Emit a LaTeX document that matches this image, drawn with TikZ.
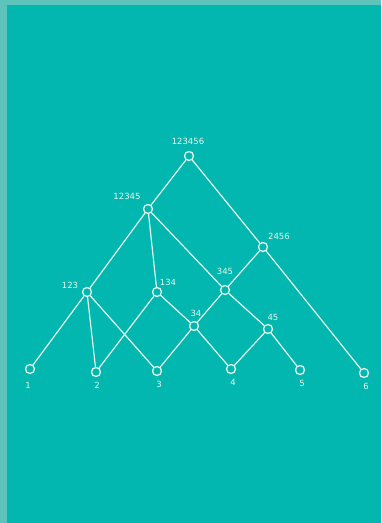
\documentclass[tikz,border=0pt]{standalone}
\usepackage{fontspec}
\setmainfont{DejaVu Sans}
\definecolor{bgteal}{HTML}{02B7AF}
\definecolor{rimteal}{HTML}{5EC4BB}
\definecolor{chalk}{HTML}{E6F6EC}
\begin{document}
\begin{tikzpicture}[x=1pt,y=-1pt,
  vtx/.style={circle,draw=chalk,line width=1.3pt,minimum size=9pt,inner sep=0pt},
  edge/.style={draw=chalk,line width=1.2pt,line cap=round},
  lab/.style={text=chalk,font=\fontsize{8.5}{9}\selectfont,inner sep=0pt}]
\fill[rimteal] (0,0) rectangle (381,523);
\fill[bgteal] (7,5) rectangle (381,523);
\useasboundingbox (0,0) rectangle (381,523);
% vertices
\node[vtx] (n123456) at (189,156) {};
\node[vtx] (n12345) at (148,209) {};
\node[vtx] (n2456) at (263,247) {};
\node[vtx] (n123) at (87,292) {};
\node[vtx] (n134) at (157,292) {};
\node[vtx] (n345) at (225,290) {};
\node[vtx] (n34) at (194,326) {};
\node[vtx] (n45) at (268,329) {};
\node[vtx] (n1) at (30,369) {};
\node[vtx] (n2) at (96,372) {};
\node[vtx] (n3) at (157,371) {};
\node[vtx] (n4) at (231,369) {};
\node[vtx] (n5) at (300,370) {};
\node[vtx] (n6) at (364,373) {};
% labels
\node[lab] (l123456) at (188,141) {123456};
\node[lab] (l12345) at (127,196) {12345};
\node[lab] (l2456) at (279,236) {2456};
\node[lab] (l123) at (70,285) {123};
\node[lab] (l134) at (168,282) {134};
\node[lab] (l345) at (225,271) {345};
\node[lab] (l34) at (196,313) {34};
\node[lab] (l45) at (273,317) {45};
\node[lab] (l1) at (28,385) {1};
\node[lab] (l2) at (97,385) {2};
\node[lab] (l3) at (159,384) {3};
\node[lab] (l4) at (233,382) {4};
\node[lab] (l5) at (302,383) {5};
\node[lab] (l6) at (366,386) {6};
% edges
\draw[edge] (n123456) -- (n12345);
\draw[edge] (n123456) -- (n2456);
\draw[edge] (n12345) -- (n123);
\draw[edge] (n12345) -- (n134);
\draw[edge] (n12345) -- (n345);
\draw[edge] (n2456) -- (n345);
\draw[edge] (n2456) -- (n6);
\draw[edge] (n123) -- (n1);
\draw[edge] (n123) -- (n2);
\draw[edge] (n123) -- (n3);
\draw[edge] (n134) -- (n2);
\draw[edge] (n134) -- (n34);
\draw[edge] (n345) -- (n34);
\draw[edge] (n345) -- (n45);
\draw[edge] (n34) -- (n3);
\draw[edge] (n34) -- (n4);
\draw[edge] (n45) -- (n4);
\draw[edge] (n45) -- (n5);
\end{tikzpicture}
\end{document}
